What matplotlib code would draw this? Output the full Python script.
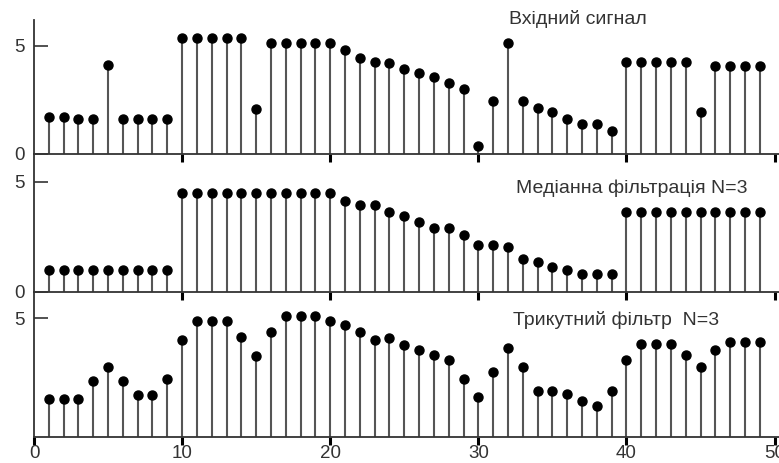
import numpy as np
import matplotlib
matplotlib.use("Agg")
import matplotlib.pyplot as plt

plt.rcParams['font.family'] = ['Liberation Sans', 'DejaVu Sans']

# samples 1..49
n = list(range(1, 50))

vhid = [1.7, 1.7, 1.6, 1.6, 4.1, 1.6, 1.6, 1.6, 1.6,
        5.35, 5.35, 5.35, 5.35, 5.35, 2.1, 5.15, 5.15, 5.15, 5.15, 5.15,
        4.8, 4.45, 4.25, 4.2, 3.95, 3.75, 3.55, 3.3, 3.0, 0.35,
        2.45, 5.15, 2.45, 2.15, 1.95, 1.6, 1.4, 1.4, 1.05,
        4.25, 4.25, 4.25, 4.25, 4.25, 1.95, 4.05, 4.05, 4.05, 4.05]

median = [1.0, 1.0, 1.0, 1.0, 1.0, 1.0, 1.0, 1.0, 1.0,
          4.5, 4.5, 4.5, 4.5, 4.5, 4.5, 4.5, 4.5, 4.5, 4.5, 4.5,
          4.15, 3.95, 3.95, 3.65, 3.45, 3.2, 2.9, 2.9, 2.6, 2.15,
          2.15, 2.05, 1.5, 1.35, 1.15, 1.0, 0.8, 0.8, 0.8,
          3.65, 3.65, 3.65, 3.65, 3.65, 3.65, 3.65, 3.65, 3.65, 3.65]

tri = [1.6, 1.6, 1.6, 2.35, 2.95, 2.35, 1.75, 1.75, 2.45,
       4.1, 4.9, 4.9, 4.9, 4.2, 3.4, 4.4, 5.1, 5.1, 5.1, 4.9,
       4.7, 4.4, 4.1, 4.15, 3.85, 3.65, 3.45, 3.25, 2.45, 1.7,
       2.75, 3.75, 2.95, 1.95, 1.95, 1.8, 1.5, 1.3, 1.95,
       3.25, 3.9, 3.9, 3.9, 3.45, 2.95, 3.65, 4.0, 4.0, 4.0]

titles = ['Вхідний сигнал', 'Медіанна фільтрація N=3', 'Трикутний фільтр  N=3']
xticks = [0, 10, 20, 30, 40, 50]

W, H = 779, 463
fig = plt.figure(figsize=(W / 100, H / 100), dpi=100)

# panel pixel boxes: (top, bottom, ymax)
panels = [(20, 154, 6.2), (154, 292, 6.27), (292, 437, 6.1)]
left, right = 34, 779
title_pos = [(578, 19), (632, 188), (616, 320)]

for i, (vals, (top, bot, ymax)) in enumerate(zip([vhid, median, tri], panels)):
    ax = fig.add_axes([left / W, 1 - bot / H, (right - left) / W, (bot - top) / H])
    ml, sl, bl = ax.stem(n, vals, linefmt='-', markerfmt='o', basefmt=' ')
    plt.setp(sl, color='#555555', linewidth=1.5)
    plt.setp(ml, color='black', markersize=6.5)
    ax.set_xlim(0, 50.3)
    ax.set_ylim(0, ymax)
    for s in ['top', 'right']:
        ax.spines[s].set_visible(False)
    for s in ['left', 'bottom']:
        ax.spines[s].set_color('#333333')
        ax.spines[s].set_linewidth(1.3)
    ax.set_xticks(xticks[1:] if i < 2 else xticks)
    ax.tick_params(axis='x', direction='out', length=5.5, width=2.2, color='black',
                   pad=0.5, labelsize=13.5, labelcolor='#333333')
    if i < 2:
        ax.tick_params(axis='x', labelbottom=False)
        ax.set_yticks([0, 5])
    else:
        ax.set_yticks([5])
    ax.tick_params(axis='y', direction='in', length=10, width=1.2, color='#333333',
                   pad=7, labelsize=13.5, labelcolor='#333333')
    ax.patch.set_alpha(0)
    tx, ty = title_pos[i]
    fig.text(tx / W, 1 - ty / H, titles[i], ha='center', va='center',
             fontsize=14, color='#333333')

fig.savefig('out.png', dpi=100)
